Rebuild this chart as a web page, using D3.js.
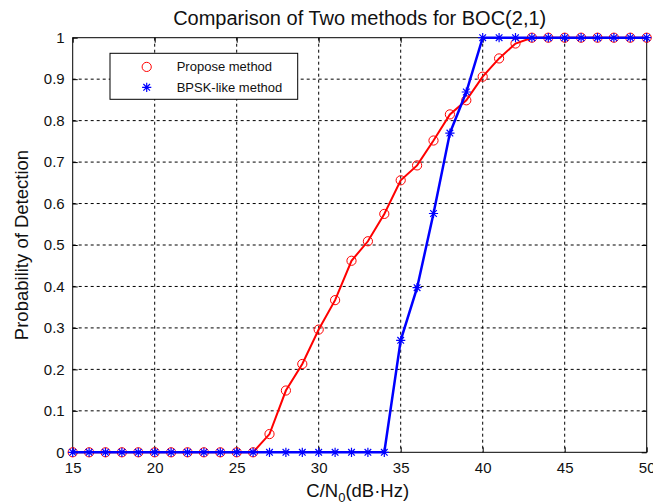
<!DOCTYPE html>
<html>
<head>
<meta charset="utf-8">
<script src="https://cdn.jsdelivr.net/npm/d3@7"></script>
<style>
  body { margin: 0; background: #fff; }
  svg { display: block; font-family: "Liberation Sans", Arial, sans-serif; }
</style>
</head>
<body>
<svg id="chart"></svg>
<script>
// data
let cn0 = d3.range(15, 51)   // C/N0 in dB-Hz, one point per integer
let proposeValues = [0, 0, 0, 0, 0, 0, 0, 0, 0, 0, 0, 0,
  0.044, 0.149, 0.213, 0.296, 0.367, 0.462, 0.509, 0.575, 0.656, 0.692,
  0.752, 0.815, 0.849, 0.906, 0.95, 0.986, 1, 1, 1, 1, 1, 1, 1, 1]
let bpskValues = [0, 0, 0, 0, 0, 0, 0, 0, 0, 0, 0, 0, 0, 0, 0, 0, 0, 0, 0, 0,
  0.27, 0.397, 0.576, 0.77, 0.869, 1, 1, 1, 1, 1, 1, 1, 1, 1, 1, 1]
let xTicks = [15, 20, 25, 30, 35, 40, 45, 50]
let yTicks = [0, 0.1, 0.2, 0.3, 0.4, 0.5, 0.6, 0.7, 0.8, 0.9, 1]
let seriesNames = ["Propose method", "BPSK-like method"]

function getConfig() {
  let width = 653
  let height = 504
  let margin = { top: 37.7, left: 72.7, right: 6.3, bottom: 51.7 }
  let bodyWidth = width - margin.left - margin.right
  let bodyHeight = height - margin.top - margin.bottom
  let container = d3.select("#chart")
    .attr("width", width)
    .attr("height", height)
  return { width, height, margin, bodyWidth, bodyHeight, container }
}

function getScales(config) {
  let xScale = d3.scaleLinear().domain([15, 50]).range([0, config.bodyWidth])
  let yScale = d3.scaleLinear().domain([0, 1]).range([config.bodyHeight, 0])
  return { xScale, yScale }
}

function drawGrid(body, scales, config) {
  let { xScale, yScale } = scales
  let { bodyWidth, bodyHeight } = config
  // dashed grid like matlab "grid on"
  body.append("g").selectAll("line")
    .data(xTicks.slice(1, -1))
    .enter().append("line")
    .attr("x1", d => xScale(d)).attr("x2", d => xScale(d))
    .attr("y1", 0).attr("y2", bodyHeight)
    .attr("stroke", "#000").attr("stroke-width", 1)
    .attr("stroke-dasharray", "3,3")
  body.append("g").selectAll("line")
    .data(yTicks.slice(1, -1))
    .enter().append("line")
    .attr("y1", d => yScale(d)).attr("y2", d => yScale(d))
    .attr("x1", 0).attr("x2", bodyWidth)
    .attr("stroke", "#000").attr("stroke-width", 1)
    .attr("stroke-dasharray", "3,3")
}

function drawAxes(body, scales, config) {
  let { xScale, yScale } = scales
  let { bodyWidth, bodyHeight } = config

  let axisX = d3.axisBottom(xScale).tickValues(xTicks).tickSize(-5).tickPadding(10)
  body.append("g")
    .attr("transform", `translate(0,${bodyHeight})`)
    .call(axisX)
  let axisTop = d3.axisTop(xScale).tickValues(xTicks).tickSize(-5).tickFormat("")
  body.append("g").call(axisTop)

  let axisY = d3.axisLeft(yScale).tickValues(yTicks).tickSize(-5).tickPadding(8)
    .tickFormat(d3.format("~g"))
  body.append("g").call(axisY)
  let axisRight = d3.axisRight(yScale).tickValues(yTicks).tickSize(-5).tickFormat("")
  body.append("g")
    .attr("transform", `translate(${bodyWidth},0)`)
    .call(axisRight)

  body.selectAll(".domain").remove()
  body.selectAll(".tick line").attr("stroke", "#000")
  body.selectAll(".tick text")
    .attr("fill", "#111")
    .style("font-size", "15px")
    .style("font-family", "'Liberation Sans', Arial, sans-serif")

  body.append("rect")
    .attr("width", bodyWidth).attr("height", bodyHeight)
    .attr("fill", "none").attr("stroke", "#000").attr("stroke-width", 1)
}

function starPath(r) {
  let k = r * 0.72
  return `M${-r},0L${r},0M0,${-r}L0,${r}M${-k},${-k}L${k},${k}M${-k},${k}L${k},${-k}`
}

function drawSeries(body, scales) {
  let { xScale, yScale } = scales
  let line = d3.line().x(d => xScale(d[0])).y(d => yScale(d[1]))

  let red = cn0.map((c, i) => [c, proposeValues[i]])
  let blue = cn0.map((c, i) => [c, bpskValues[i]])

  body.append("path").datum(red)
    .attr("d", line).attr("fill", "none")
    .attr("stroke", "#ff0000").attr("stroke-width", 2)
  body.append("g").selectAll("circle")
    .data(red)
    .enter().append("circle")
    .attr("cx", d => xScale(d[0])).attr("cy", d => yScale(d[1]))
    .attr("r", 4.6)
    .attr("fill", "none").attr("stroke", "#ff0000").attr("stroke-width", 1)

  body.append("path").datum(blue)
    .attr("d", line).attr("fill", "none")
    .attr("stroke", "#0000ff").attr("stroke-width", 2.5)
  body.append("g").selectAll("path")
    .data(blue)
    .enter().append("path")
    .attr("transform", d => `translate(${xScale(d[0])},${yScale(d[1])})`)
    .attr("d", starPath(4.6))
    .attr("stroke", "#0000ff").attr("stroke-width", 1.2)
}

function drawLegend(container) {
  let legend = container.append("g").attr("transform", "translate(110,53.3)")
  legend.append("rect")
    .attr("width", 187.7).attr("height", 46)
    .attr("fill", "#fff").attr("stroke", "#000").attr("stroke-width", 1)
  legend.append("circle")
    .attr("cx", 36.7).attr("cy", 13.6).attr("r", 4.6)
    .attr("fill", "none").attr("stroke", "#ff0000").attr("stroke-width", 1)
  legend.append("path")
    .attr("transform", "translate(36.7,34)")
    .attr("d", starPath(4.6))
    .attr("stroke", "#0000ff").attr("stroke-width", 1.2)
  legend.selectAll("text")
    .data(seriesNames)
    .enter().append("text")
    .attr("x", 66.7)
    .attr("y", (d, i) => 18 + i * 20.6)
    .style("font-size", "13px")
    .attr("fill", "#111")
    .text(d => d)
}

function drawLabels(config) {
  let { container, margin, bodyWidth, bodyHeight } = config
  let cx = margin.left + bodyWidth / 2
  container.append("text")
    .attr("x", cx).attr("y", 25)
    .attr("text-anchor", "middle")
    .style("font-size", "20px")
    .attr("fill", "#111")
    .text("Comparison of Two methods for BOC(2,1)")

  let xl = container.append("text")
    .attr("x", cx - 2).attr("y", 496.5)
    .attr("text-anchor", "middle")
    .style("font-size", "18.5px")
    .attr("fill", "#111")
  xl.append("tspan").text("C/N")
  xl.append("tspan").attr("dy", 5).style("font-size", "13px").text("0")
  xl.append("tspan").attr("dy", -5).text("(dB\u00b7Hz)")

  container.append("text")
    .attr("transform", `translate(28,${margin.top + bodyHeight / 2}) rotate(-90)`)
    .attr("text-anchor", "middle")
    .style("font-size", "18.5px")
    .attr("fill", "#111")
    .text("Probability of Detection")
}

function drawChart() {
  let config = getConfig()
  let scales = getScales(config)
  let body = config.container.append("g")
    .attr("transform", `translate(${config.margin.left},${config.margin.top})`)
  drawGrid(body, scales, config)
  drawAxes(body, scales, config)
  drawSeries(body, scales)
  drawLegend(config.container)
  drawLabels(config)
}

drawChart()
</script>
</body>
</html>
